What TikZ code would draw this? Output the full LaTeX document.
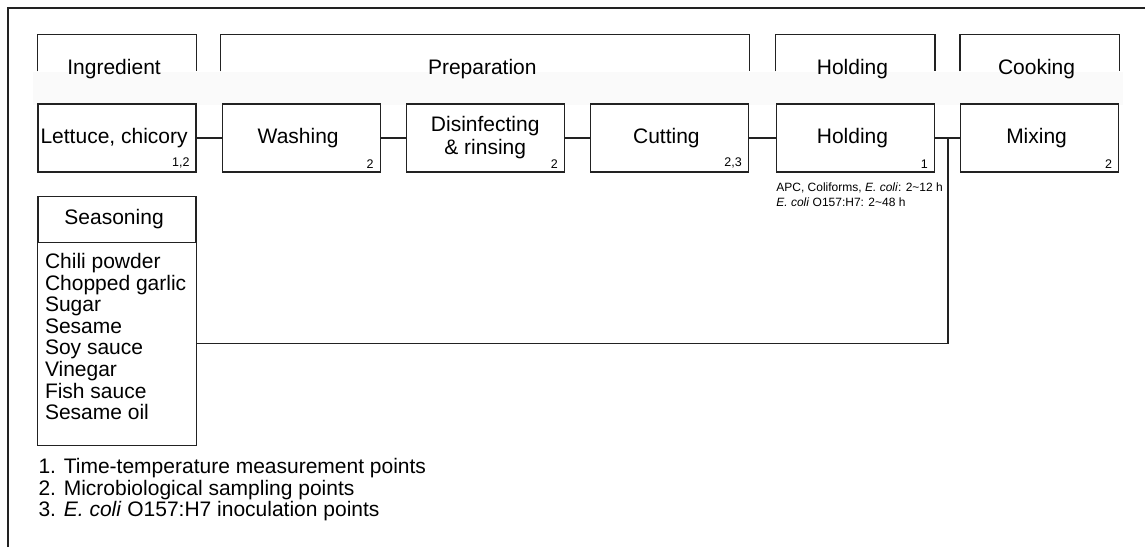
\documentclass[tikz,border=0pt]{standalone}
\usepackage{fontspec}
\setmainfont{Liberation Sans}
\usetikzlibrary{positioning}
\definecolor{linegray}{HTML}{222222}
\definecolor{bandgray}{HTML}{FAFAFA}

\begin{document}
\begin{tikzpicture}[x = 1pt, y = 1pt, line width = 1.1pt, draw = linegray,
    every node/.style = { align = center, inner sep = 0pt },
    procbox/.style = { draw = linegray, minimum width = 158pt, minimum height = 68pt, font = \fontsize{21}{23}\selectfont },
    headbox/.style = { minimum width = 158pt, minimum height = 68pt, font = \fontsize{21}{23}\selectfont },
    ptnum/.style = { anchor = south east, font = \fontsize{12.5}{14}\selectfont },
    smalltxt/.style = { align = left, font = \fontsize{12}{14.5}\selectfont },
    listtxt/.style = { align = left, font = \fontsize{21}{21.6}\selectfont }]
    \useasboundingbox (0,0) rectangle (1145,-547);
    \draw (8,-547) -- (8,-8) -- (1145,-8);
    \fill[bandgray] (33,-72) rectangle (1123,-105);

    % process line
    \node[procbox] (lettuce) at (117,-138) { Lettuce, chicory };
    \node[procbox, right = 25pt of lettuce] (washing) { Washing };
    \node[procbox, right = 25pt of washing] (disinf) { Disinfecting \\ \& rinsing };
    \node[procbox, right = 25pt of disinf] (cutting) { Cutting };
    \node[procbox, right = 27pt of cutting] (holding) { Holding };
    \node[procbox, right = 25pt of holding] (mixing) { Mixing };

    \node[ptnum] (n1) at ([xshift = -3pt, yshift = 3.5pt]lettuce.south east) { 1,2 };
    \node[ptnum] (n2) at ([xshift = -3pt, yshift = 3.5pt]washing.south east) { 2 };
    \node[ptnum] (n3) at ([xshift = -3pt, yshift = 3.5pt]disinf.south east) { 2 };
    \node[ptnum] (n4) at ([xshift = -3pt, yshift = 3.5pt]cutting.south east) { 2,3 };
    \node[ptnum] (n5) at ([xshift = -3pt, yshift = 3.5pt]holding.south east) { 1 };
    \node[ptnum] (n6) at ([xshift = -3pt, yshift = 3.5pt]mixing.south east) { 2 };

    % stage headers
    \node[headbox, above = 0pt of lettuce] (ingh) { Ingredient };
    \node[headbox, minimum width = 528pt, above = 0pt of disinf] (preph) { Preparation };
    \node[headbox, above = 0pt of holding] (holdh) { Holding };
    \node[headbox, above = 0pt of mixing] (cookh) { Cooking };
    \foreach \h in {ingh, preph, holdh, cookh}
      \draw ([yshift = 32pt]\h.south west) |- (\h.north) -| ([yshift = 32pt]\h.south east);

    \draw (lettuce) -- (washing);
    \draw (washing) -- (disinf);
    \draw (disinf) -- (cutting);
    \draw (cutting) -- (holding);
    \draw (holding) -- (mixing);

    \node[smalltxt, anchor = north west] (holdnote) at ([yshift = -10pt]holding.south west)
      { APC, Coliforms, \textit{E. coli}: 2\textasciitilde12 h \\ \textit{E. coli} O157:H7: 2\textasciitilde48 h };

    % seasoning
    \node[procbox, minimum height = 46pt, below = 23pt of lettuce] (season) { Seasoning };
    \coordinate (seasonbot) at ([yshift = -203pt]season.south east);
    \draw (season.south west) rectangle (seasonbot);
    \node[listtxt, anchor = north west] (seasonlist) at ([xshift = 7pt, yshift = -10pt]season.south west)
      { Chili powder \\ Chopped garlic \\ Sugar \\ Sesame \\ Soy sauce \\ Vinegar \\ Fish sauce \\ Sesame oil };
    \coordinate (seasonout) at ([yshift = -101pt]season.south east);
    \coordinate (jn) at ([xshift = 13pt]holding.east);
    \draw (jn) |- (seasonout);

    \node[listtxt, anchor = north west] (notes) at (38,-458)
      { 1. Time-temperature measurement points \\ 2. Microbiological sampling points \\ 3. \textit{E. coli} O157:H7 inoculation points };
\end{tikzpicture}
\end{document}
